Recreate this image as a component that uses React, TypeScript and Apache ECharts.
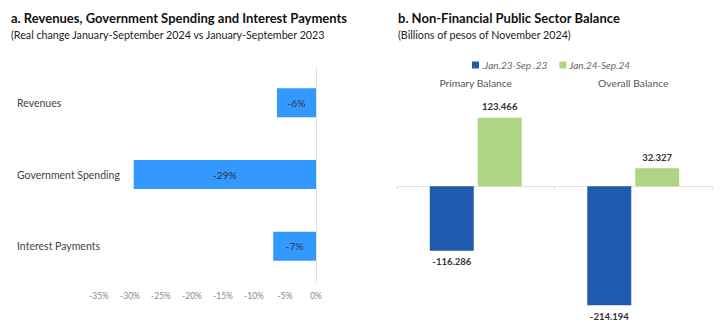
import React, { useEffect, useRef } from "react";
import * as echarts from "echarts";

const leftCategories = ["Revenues", "Government Spending", "Interest Payments"];
const leftValues = [-6.3, -29.4, -6.9];
const leftLabels = ["-6%", "-29%", "-7%"];
const leftTicks = [-35, -30, -25, -20, -15, -10, -5, 0];

const rightCategories = ["Primary Balance", "Overall Balance"];
const series2023 = [-116.286, -214.194];
const series2024 = [123.466, 32.327];
const seriesNames = [".Jan.23-Sep .23", "Jan.24-Sep.24"];

const FONT = "Lato, 'Open Sans', sans-serif";

export default function App() {
  const ref = useRef<HTMLDivElement>(null);
  useEffect(() => {
    if (!ref.current) return;
    const chart = echarts.init(ref.current, undefined, { renderer: "svg" });
    const option: any = {
      animation: false,
      textStyle: { fontFamily: FONT },
      title: [
        {
          text: "a. Revenues, Government Spending and Interest Payments",
          subtext: "(Real change January-September 2024 vs January-September 2023",
          left: 6,
          top: 6,
          itemGap: 5,
          textStyle: { fontSize: 13, fontWeight: "bold", color: "#111", fontFamily: FONT },
          subtextStyle: { fontSize: 10.7, color: "#222", fontFamily: FONT },
        },
        {
          text: "b. Non-Financial Public Sector Balance",
          subtext: "(Billions of pesos of November 2024)",
          left: 393,
          top: 6,
          itemGap: 5,
          textStyle: { fontSize: 13, fontWeight: "bold", color: "#111", fontFamily: FONT },
          subtextStyle: { fontSize: 10.7, color: "#222", fontFamily: FONT },
        },
      ],
      legend: {
        left: 467,
        top: 55,
        itemWidth: 7,
        itemHeight: 7,
        itemGap: 12,
        icon: "rect",
        data: seriesNames,
        textStyle: { fontSize: 10, fontStyle: "italic", color: "#666", fontFamily: FONT, padding: [0, 0, 0, -2] },
      },
      grid: [
        { left: 99, right: 404, top: 67, height: 215 },
        { left: 397, right: 8, top: 103, height: 222 },
      ],
      xAxis: [
        {
          type: "value",
          gridIndex: 0,
          min: -35,
          max: 0,
          interval: 5,
          axisLine: { show: false },
          axisTick: { show: false },
          splitLine: { show: false },
          axisLabel: {
            margin: 9,
            fontSize: 8.5,
            color: "#888",
            formatter: (v: number) => (leftTicks.includes(v) ? v + "%" : ""),
          },
        },
        {
          type: "category",
          gridIndex: 1,
          data: rightCategories,
          position: "bottom",
          axisLine: { onZero: true, lineStyle: { color: "#e2e2e2", width: 1 } },
          axisTick: { show: true, length: 4, lineStyle: { color: "#e2e2e2" } },
          axisLabel: { show: false },
        },
        {
          type: "category",
          gridIndex: 1,
          data: rightCategories,
          position: "top",
          axisLine: { show: false },
          axisTick: { show: false },
          axisLabel: { margin: 15, fontSize: 10.3, color: "#555" },
        },
      ],
      yAxis: [
        {
          type: "category",
          gridIndex: 0,
          data: leftCategories,
          inverse: true,
          axisLine: { show: false },
          axisTick: { show: false },
          axisLabel: { align: "left", margin: 82, fontSize: 10.5, color: "#444" },
        },
        {
          type: "category",
          gridIndex: 0,
          data: leftCategories,
          inverse: true,
          position: "right",
          axisLine: { show: true, lineStyle: { color: "#e2e2e2" } },
          axisTick: { show: false },
          axisLabel: { show: false },
        },
        {
          type: "value",
          gridIndex: 1,
          min: -250,
          max: 150,
          show: false,
          splitLine: { show: false },
        },
      ],
      series: [
        {
          type: "bar",
          xAxisIndex: 0,
          yAxisIndex: 0,
          data: leftValues,
          barWidth: 29,
          itemStyle: { color: "#3399FF" },
          label: {
            show: true,
            position: "inside",
            fontSize: 10.3,
            color: "#333",
            formatter: (p: any) => leftLabels[p.dataIndex],
          },
        },
        {
          name: seriesNames[0],
          type: "bar",
          xAxisIndex: 1,
          yAxisIndex: 2,
          data: series2023,
          barWidth: 44,
          barGap: "9%",
          itemStyle: { color: "#1F5AAF" },
          label: {
            show: true,
            position: "bottom",
            distance: 6,
            fontSize: 9.5,
            fontWeight: "bold",
            color: "#333",
            formatter: (p: any) => p.value.toFixed(3),
          },
        },
        {
          name: seriesNames[1],
          type: "bar",
          xAxisIndex: 1,
          yAxisIndex: 2,
          data: series2024,
          barWidth: 44,
          barGap: "9%",
          itemStyle: { color: "#AED584" },
          label: {
            show: true,
            position: "top",
            distance: 6,
            fontSize: 9.5,
            fontWeight: "bold",
            color: "#333",
            formatter: (p: any) => p.value.toFixed(3),
          },
        },
      ],
    };
    chart.setOption(option);
    return () => chart.dispose();
  }, []);
  return <div ref={ref} style={{ width: 720, height: 327, position: "absolute", left: 0, top: 0, background: "#fff" }} />;
}
